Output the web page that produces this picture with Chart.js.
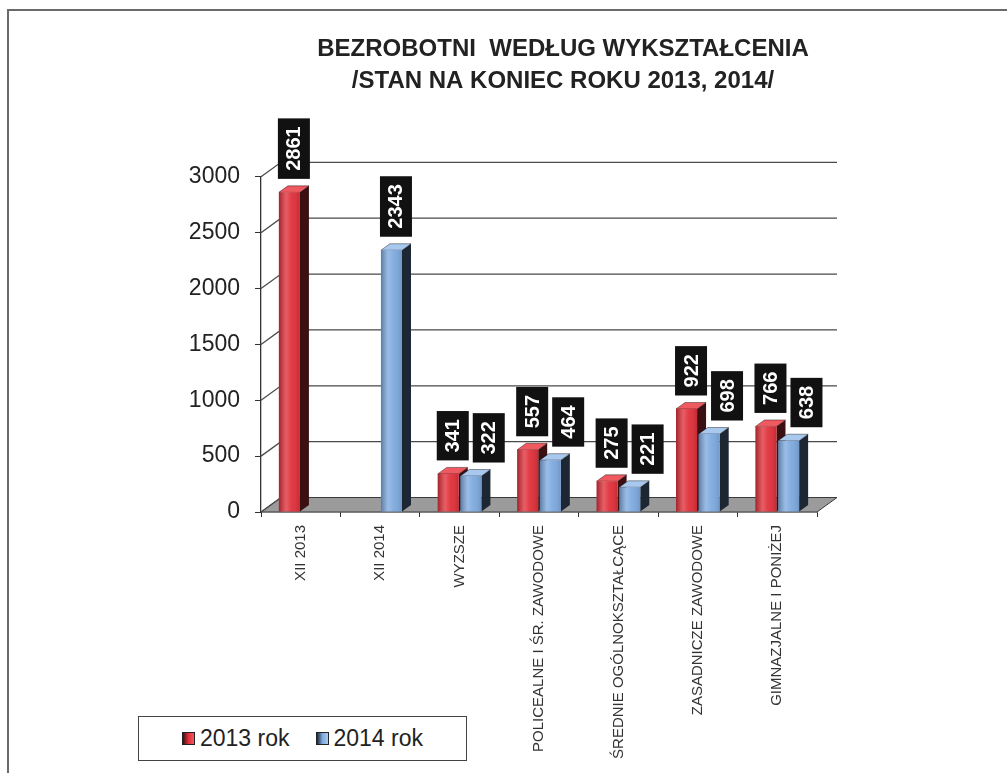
<!DOCTYPE html>
<html><head><meta charset="utf-8">
<script src="https://cdn.jsdelivr.net/npm/chart.js@4.4.1/dist/chart.umd.min.js"></script>
<style>
html,body{margin:0;padding:0;background:#fff;}
#wrap{position:relative;width:1007px;height:773px;overflow:hidden;background:#fff;}
#frame{position:absolute;left:7px;top:9px;width:1100px;height:900px;border-left:2px solid #6a6a6a;border-top:2px solid #6a6a6a;}
canvas{position:absolute;left:0;top:0;}
#legend{position:absolute;left:138px;top:716px;width:327px;height:43px;border:1px solid #444;background:#fff;display:flex;align-items:center;justify-content:center;font:23px "Liberation Sans",Arial,sans-serif;color:#222;}
.item{display:flex;align-items:center;margin:0 13px;}
.sw{width:11px;height:11px;border:1px solid #222;margin-right:5px;}
</style></head>
<body><div id="wrap"><div id="frame"></div><canvas id="c" width="1007" height="773"></canvas><div id="legend"></div></div>
<script>
const categories = ['XII 2013','XII 2014','WYZSZE','POLICEALNE I ŚR. ZAWODOWE','ŚREDNIE OGÓLNOKSZTAŁCĄCE','ZASADNICZE ZAWODOWE','GIMNAZJALNE I PONIŻEJ'];
const seriesNames = ['2013 rok','2014 rok'];
const values2013 = [2861, null, 341, 557, 275, 922, 766];
const values2014 = [null, 2343, 322, 464, 221, 698, 638];
const yTicks = [0, 500, 1000, 1500, 2000, 2500, 3000];
const titleLines = ['BEZROBOTNI  WEDŁUG WYKSZTAŁCENIA', '/STAN NA KONIEC ROKU 2013, 2014/'];

const frontColors = ['#e0303a', '#7eaadf'];
const sideColors = ['#3a1012', '#1d2633'];
const topColors = ['#ef5a60', '#a9c8ee'];
const DX = 20, DY = -14.5;   // back wall depth
const BDX = 9, BDY = -6.5;   // bar depth

// legend (HTML)
const lg = document.getElementById('legend');
seriesNames.forEach((n, i) => {
  const it = document.createElement('div'); it.className = 'item';
  const sw = document.createElement('div'); sw.className = 'sw';
  sw.style.background = 'linear-gradient(90deg,' + sideColors[i] + ',' + frontColors[i] + ' 50%,' + topColors[i] + ')';
  const tx = document.createElement('span'); tx.textContent = n;
  it.appendChild(sw); it.appendChild(tx); lg.appendChild(it);
});

const threeD = {
  id: 'threeD',
  beforeDatasetsDraw(chart) {
    const { ctx, chartArea: a, scales: { y } } = chart;
    ctx.save();
    // floor
    ctx.beginPath();
    ctx.moveTo(a.left, a.bottom); ctx.lineTo(a.right, a.bottom);
    ctx.lineTo(a.right + DX, a.bottom + DY); ctx.lineTo(a.left + DX, a.bottom + DY);
    ctx.closePath();
    ctx.fillStyle = '#9b9b9b'; ctx.fill();
    ctx.strokeStyle = '#3a3a3a'; ctx.lineWidth = 1; ctx.stroke();
    // back wall grid lines
    ctx.strokeStyle = '#4a4a4a'; ctx.lineWidth = 1.3;
    y.ticks.forEach(t => {
      const py = y.getPixelForValue(t.value);
      ctx.beginPath();
      ctx.moveTo(a.left, py); ctx.lineTo(a.left + DX, py + DY);
      if (t.value !== 0) ctx.lineTo(a.right + DX, py + DY);
      ctx.stroke();
    });
    // bar side & top faces (drawn per category, series in order)
    const n = chart.data.labels.length;
    for (let i = 0; i < n; i++) {
      chart.data.datasets.forEach((ds, di) => {
        const v = ds.data[i];
        if (v === null || v === undefined) return;
        const el = chart.getDatasetMeta(di).data[i];
        const x1 = el.x - el.width / 2, x2 = el.x + el.width / 2;
        const top = el.y, base = el.base;
        ctx.beginPath();
        ctx.moveTo(x2, top); ctx.lineTo(x2 + BDX, top + BDY);
        ctx.lineTo(x2 + BDX, base + BDY); ctx.lineTo(x2, base); ctx.closePath();
        ctx.fillStyle = sideColors[di]; ctx.fill();
        ctx.beginPath();
        ctx.moveTo(x1, top); ctx.lineTo(x1 + BDX, top + BDY);
        ctx.lineTo(x2 + BDX, top + BDY); ctx.lineTo(x2, top); ctx.closePath();
        ctx.fillStyle = topColors[di]; ctx.fill();
        ctx.strokeStyle = 'rgba(0,0,0,0.5)'; ctx.lineWidth = 0.8; ctx.stroke();
      });
    }
    ctx.restore();
  },
  afterDatasetsDraw(chart) {
    const { ctx } = chart;
    ctx.save();
    const n = chart.data.labels.length;
    for (let i = 0; i < n; i++) {
      chart.data.datasets.forEach((ds, di) => {
        const v = ds.data[i];
        if (v === null || v === undefined) return;
        const el = chart.getDatasetMeta(di).data[i];
        const x1 = el.x - el.width / 2, x2 = el.x + el.width / 2;
        const g = ctx.createLinearGradient(x1, 0, x2, 0);
        g.addColorStop(0, 'rgba(0,0,0,0.28)');
        g.addColorStop(0.35, 'rgba(255,255,255,0.22)');
        g.addColorStop(0.6, 'rgba(255,255,255,0.05)');
        g.addColorStop(1, 'rgba(0,0,0,0.12)');
        ctx.fillStyle = g;
        ctx.fillRect(x1, el.y, x2 - x1, el.base - el.y);
      });
    }
    ctx.font = 'bold 20px "Liberation Sans", Arial, sans-serif';
    ctx.textAlign = 'center'; ctx.textBaseline = 'middle';
    const W = 32, PAD = 8, GAP = 7;
    for (let i = 0; i < n; i++) {
      let prev = null;
      chart.data.datasets.forEach((ds, di) => {
        const v = ds.data[i];
        if (v === null || v === undefined) return;
        const el = chart.getDatasetMeta(di).data[i];
        const txt = String(v);
        const H = ctx.measureText(txt).width + PAD * 2;
        let cx = el.x + BDX / 2;
        const bottom = el.y + BDY - GAP;
        const topY = bottom - H;
        if (prev && cx - W / 2 < prev.right + 4 && topY < prev.bottom && bottom > prev.top) {
          cx = prev.right + 4 + W / 2;
        }
        ctx.fillStyle = '#111';
        ctx.fillRect(cx - W / 2, topY, W, H);
        ctx.save();
        ctx.translate(cx + 1, topY + H / 2);
        ctx.rotate(-Math.PI / 2);
        ctx.fillStyle = '#fff';
        ctx.fillText(txt, 0, 0);
        ctx.restore();
        prev = { right: cx + W / 2, top: topY, bottom: bottom };
      });
    }
    ctx.restore();
  }
};

new Chart(document.getElementById('c'), {
  type: 'bar',
  data: {
    labels: categories,
    datasets: [
      { label: seriesNames[0], data: values2013, backgroundColor: frontColors[0], borderWidth: 0 },
      { label: seriesNames[1], data: values2014, backgroundColor: frontColors[1], borderWidth: 0 }
    ]
  },
  options: {
    responsive: false,
    animation: false,
    layout: { padding: { left: 119, right: 0, top: 0, bottom: 0 } },
    datasets: { bar: { categoryPercentage: 0.57, barPercentage: 0.93 } },
    plugins: {
      legend: { display: false },
      tooltip: { enabled: false },
      title: {
        display: true,
        text: titleLines,
        color: '#222',
        font: { family: '"Liberation Sans", Arial, sans-serif', size: 24, weight: 'bold', lineHeight: 1.33 },
        padding: { top: 33, bottom: 80 }
      }
    },
    scales: {
      x: {
        grid: { display: true, drawOnChartArea: false, drawTicks: true, tickLength: 5, color: '#333' },
        border: { display: true, color: '#333', width: 1.3 },
        ticks: {
          autoSkip: false, minRotation: 90, maxRotation: 90, padding: 8,
          color: '#333', font: { family: '"Liberation Sans", Arial, sans-serif', size: 15 }
        },
        afterFit(axis) { axis.height = 261; }
      },
      y: {
        min: 0, max: 3000,
        afterBuildTicks(axis) { axis.ticks = yTicks.map(v => ({ value: v })); },
        grid: { display: true, drawOnChartArea: false, drawTicks: true, tickLength: 6, color: '#333' },
        border: { display: true, color: '#333', width: 1.3 },
        ticks: {
          padding: 15, color: '#222',
          font: { family: '"Liberation Sans", Arial, sans-serif', size: 23 },
          callback: (v) => String(v)
        },
        afterFit(axis) { axis.width = 142; }
      },
      yr: {
        position: 'right', display: true,
        grid: { display: false }, border: { display: false },
        ticks: { display: false },
        afterFit(axis) { axis.width = 190; }
      }
    }
  },
  plugins: [threeD]
});
</script>
</body></html>
